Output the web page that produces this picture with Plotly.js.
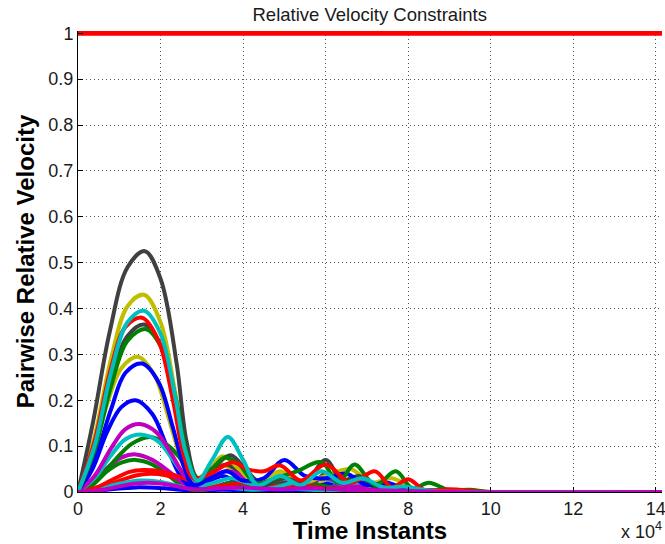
<!DOCTYPE html>
<html>
<head>
<meta charset="utf-8">
<script src="https://cdn.plot.ly/plotly-3.0.1.min.js"></script>
<style>html,body{margin:0;padding:0;background:#fff;}#chart{width:665px;height:544px;}</style>
</head>
<body>
<div id="chart"></div>
<script>
// x values are in units of 10^4 time instants
const limitX = [0, 14.15];
const limitY = [1, 1];

const x01 = [0,0.7,1.4,2.1,2.8,3.5,4.5,6,8,14.15];
const y01 = [0,0.005,0.01,0.008,0.003,0.005,0.003,0.002,0,0];
const x02 = [0,0.35,0.7,1.05,1.4,1.8,2.2,2.55,2.9,3.3,3.7,4.2,4.8,5.5,6.2,7,8,14.15];
const y02 = [0,0.015,0.045,0.064,0.07,0.06,0.035,0.012,0.003,0.01,0.02,0.008,0.01,0.006,0.01,0.003,0,0];
const x03 = [0,0.5,1.0,1.4,1.75,2.1,2.5,2.9,3.3,3.8,4.4,5,6,7,14.15];
const y03 = [0,0.006,0.024,0.036,0.04,0.037,0.026,0.014,0.01,0.015,0.008,0.012,0.005,0,0];
const x04 = [0,0.5,1.0,1.5,2.0,2.5,3.0,3.6,4.2,5,6,7,14.15];
const y04 = [0,0.006,0.018,0.025,0.022,0.012,0.006,0.01,0.005,0.008,0.003,0,0];
const x05 = [0,0.35,0.7,1.05,1.4,1.8,2.2,2.55,2.9,3.3,3.8,4.4,5.0,5.8,6.6,7.5,9,14.15];
const y05 = [0,0.02,0.052,0.075,0.082,0.07,0.045,0.02,0.008,0.012,0.02,0.008,0.015,0.01,0.012,0.004,0,0];
const x06 = [0,0.35,0.7,1.05,1.45,1.85,2.2,2.5,2.75,3.1,3.5,3.9,4.4,5.0,5.6,6.2,7.0,7.8,9,14.15];
const y06 = [0,0.08,0.19,0.27,0.295,0.255,0.16,0.07,0.02,0.03,0.06,0.03,0.015,0.04,0.01,0.03,0.01,0.01,0,0];
const x07 = [0,0.4,0.8,1.2,1.6,2.0,2.35,2.6,2.85,3.2,3.6,4.0,4.4,5.0,5.6,6.0,6.5,7.0,7.5,8.2,9,14.15];
const y07 = [0,0.1,0.25,0.34,0.365,0.32,0.19,0.08,0.02,0.04,0.06,0.035,0.01,0.02,0.01,0.04,0.015,0.02,0.005,0.004,0,0];
const x08 = [0,0.35,0.7,1.05,1.4,1.8,2.15,2.45,2.75,3.1,3.5,3.9,4.4,5.0,5.6,6.2,7,8,14.15];
const y08 = [0,0.05,0.13,0.185,0.2,0.17,0.1,0.04,0.01,0.02,0.035,0.02,0.01,0.03,0.01,0.02,0.005,0,0];
const x09 = [0,0.45,0.9,1.3,1.75,2.2,2.6,2.95,3.3,3.7,4.1,4.6,5.2,5.8,6.4,7,8,14.15];
const y09 = [0,0.025,0.07,0.105,0.12,0.1,0.06,0.025,0.01,0.02,0.012,0.02,0.01,0.015,0.005,0.005,0,0];
const x10 = [0,0.45,0.9,1.25,1.6,2.0,2.4,2.8,3.2,3.6,4.0,4.6,5.2,6,7,8,14.15];
const y10 = [0,0.01,0.03,0.044,0.048,0.045,0.035,0.022,0.012,0.015,0.02,0.012,0.015,0.008,0.005,0,0];
const x11 = [0,0.4,0.8,1.15,1.55,1.95,2.3,2.6,2.9,3.3,3.7,4.1,4.6,5.2,5.9,6.5,7.2,8,14.15];
const y11 = [0,0.03,0.08,0.115,0.125,0.11,0.07,0.035,0.015,0.02,0.03,0.02,0.008,0.02,0.03,0.015,0.02,0,0];
const x12 = [0,0.4,0.8,1.15,1.5,1.9,2.25,2.55,2.85,3.2,3.6,4.0,4.5,5.0,5.5,6.0,6.6,7.2,8,9,14.15];
const y12 = [0,0.035,0.095,0.137,0.148,0.13,0.085,0.04,0.015,0.03,0.045,0.035,0.015,0.03,0.02,0.03,0.012,0.015,0.003,0,0];
const x13 = [0,0.4,0.8,1.2,1.6,2.0,2.35,2.6,2.85,3.1,3.5,3.9,4.3,4.9,5.4,6.0,6.6,7.1,7.6,8.2,9,10,14.15];
const y13 = [0,0.12,0.29,0.405,0.43,0.37,0.22,0.1,0.03,0.04,0.078,0.05,0.02,0.045,0.02,0.035,0.05,0.02,0.03,0.006,0.002,0,0];
const x14 = [0,0.37,0.77,1.2,1.62,2.0,2.39,2.63,2.9,3.3,3.7,4.1,4.5,5.0,5.5,6.0,6.4,6.8,7.2,7.6,8.0,8.6,9.2,10,14.15];
const y14 = [0,0.155,0.35,0.49,0.525,0.465,0.28,0.11,0.03,0.055,0.08,0.045,0.015,0.03,0.02,0.07,0.025,0.035,0.01,0.015,0.004,0.004,0.001,0,0];
const x15 = [0,0.4,0.8,1.15,1.55,1.95,2.3,2.55,2.8,3.2,3.6,4.0,4.5,5.0,5.5,6.0,6.5,7.0,7.5,8.0,9,14.15];
const y15 = [0,0.07,0.18,0.26,0.28,0.24,0.14,0.06,0.015,0.03,0.045,0.025,0.03,0.07,0.035,0.03,0.04,0.015,0.02,0.004,0,0];
const x16 = [0,0.4,0.8,1.2,1.65,2.05,2.4,2.65,2.9,3.2,3.55,3.9,4.3,4.8,5.3,5.9,6.3,6.7,7.2,7.7,8.1,8.5,9.0,9.5,10,14.15];
const y16 = [0,0.09,0.23,0.33,0.355,0.31,0.19,0.08,0.025,0.045,0.075,0.06,0.02,0.03,0.045,0.065,0.02,0.06,0.015,0.045,0.008,0.02,0.004,0.005,0,0];
const x17 = [0,0.4,0.8,1.15,1.55,1.95,2.3,2.55,2.8,3.2,3.75,4.1,4.5,4.9,5.4,6.0,6.6,7.2,7.6,8.0,8.4,9.0,10,14.15];
const y17 = [0,0.11,0.27,0.36,0.38,0.33,0.2,0.085,0.03,0.04,0.065,0.05,0.045,0.058,0.025,0.06,0.02,0.045,0.01,0.028,0.004,0.006,0,0];
const x18 = [0,0.4,0.8,1.2,1.6,2.0,2.35,2.6,2.9,3.25,3.63,4.0,4.35,4.9,5.4,5.9,6.4,6.9,7.4,7.9,8.5,9.5,14.15];
const y18 = [0,0.1,0.26,0.37,0.395,0.345,0.21,0.09,0.025,0.07,0.12,0.07,0.015,0.035,0.015,0.045,0.02,0.03,0.01,0.012,0.003,0,0];
const x19 = [0,0.6,1.2,1.7,2.2,2.8,3.4,4,4.8,5.6,6.5,7.5,9,14.15];
const y19 = [0,0.005,0.016,0.02,0.016,0.006,0.008,0.01,0.006,0.008,0.005,0.003,0,0];

const xTickVals = [0, 2, 4, 6, 8, 10, 12, 14];
const xTickText = ['0', '2', '4', '6', '8', '10', '12', '14'];

const C = {b:'#0000ff', g:'#008000', r:'#ff0000', c:'#00bfbf', m:'#bf00bf', y:'#bfbf00', k:'#404040'};
const series = [
  [x01,y01,C.b],[x02,y02,C.g],[x03,y03,C.r],[x04,y04,C.c],[x05,y05,C.m],[x06,y06,C.y],[x07,y07,C.k],
  [x08,y08,C.b],[x09,y09,C.g],[x10,y10,C.r],[x11,y11,C.c],[x12,y12,C.m],[x13,y13,C.y],[x14,y14,C.k],
  [x15,y15,C.b],[x16,y16,C.g],[x17,y17,C.r],[x18,y18,C.c],[x19,y19,C.m]
];

const traces = series.map(s => ({
  x: s[0], y: s[1], type: 'scatter', mode: 'lines',
  line: {color: s[2], width: 4, shape: 'spline', smoothing: 1},
  hoverinfo: 'skip', showlegend: false
}));
traces.push({x: limitX, y: limitY, type: 'scatter', mode: 'lines',
  line: {color: '#ff0000', width: 5}, showlegend: false, hoverinfo: 'skip'});

const font = 'Liberation Sans, Arial, Helvetica, sans-serif';
const layout = {
  width: 665, height: 544,
  margin: {l: 78, r: 3, t: 31, b: 52},
  paper_bgcolor: '#ffffff', plot_bgcolor: '#ffffff',
  font: {family: font, size: 18, color: '#1a1a1a'},
  title: {text: 'Relative Velocity Constraints', font: {family: font, size: 18.5, color: '#1a1a1a'},
          x: 0.556, xanchor: 'center', y: 1 - 15/544, yref: 'container', yanchor: 'middle'},
  xaxis: {
    range: [0, 14.15], tickvals: xTickVals, ticktext: xTickText,
    ticklabeloverflow: 'allow',
    showgrid: true, gridcolor: '#555555', griddash: '1px,3px', gridwidth: 1,
    showline: true, linecolor: '#000000', linewidth: 1, mirror: false,
    zeroline: false, ticks: 'inside', ticklen: 5, tickcolor: '#000000',
    tickfont: {family: font, size: 18, color: '#1a1a1a'},
    title: {text: 'Time Instants', font: {family: font, size: 24, color: '#000000', weight: 'bold'}, standoff: 6}
  },
  yaxis: {
    range: [0, 1.005], dtick: 0.1, tick0: 0,
    ticklabeloverflow: 'allow',
    showgrid: true, gridcolor: '#555555', griddash: '1px,3px', gridwidth: 1,
    showline: true, linecolor: '#000000', linewidth: 1, mirror: false,
    zeroline: false, ticks: 'inside', ticklen: 5, tickcolor: '#000000',
    tickfont: {family: font, size: 18, color: '#1a1a1a'},
    title: {text: 'Pairwise Relative Velocity', font: {family: font, size: 24, color: '#000000', weight: 'bold'}, standoff: 6}
  },
  annotations: [{
    text: 'x 10<sup>4</sup>', xref: 'paper', yref: 'paper', x: 1.003, y: -0.083,
    xanchor: 'right', yanchor: 'middle', showarrow: false,
    font: {family: font, size: 18, color: '#1a1a1a'}
  }]
};

Plotly.newPlot('chart', traces, layout, {displayModeBar: false, staticPlot: true});
</script>
</body>
</html>
